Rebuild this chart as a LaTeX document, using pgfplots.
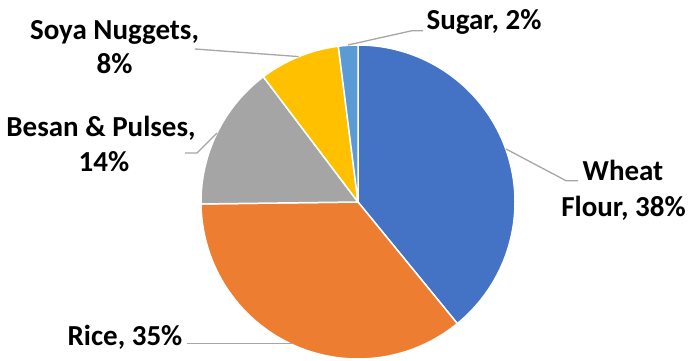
\documentclass[border=0pt]{standalone}
\usepackage{pgfplots}
\pgfplotsset{compat=1.18}
\usepackage{pgfplotstable}
\usepackage{fontspec}
\setmainfont{Carlito}
\definecolor{cWheat}{HTML}{4472C4}
\definecolor{cRice}{HTML}{ED7D31}
\definecolor{cBesan}{HTML}{A5A5A5}
\definecolor{cSoya}{HTML}{FFC000}
\definecolor{cSugar}{HTML}{5B9BD5}
\definecolor{leader}{HTML}{A6A6A6}
\pgfplotstableread{
share
39.1
35.7
14.9
8.3
2.0
}\shares
\def\cx{358}\def\cy{159}\def\pr{157}
\begin{document}%
\begin{tikzpicture}
\pgfplotstablegetelem{0}{share}\of\shares \let\sA\pgfplotsretval
\pgfplotstablegetelem{1}{share}\of\shares \let\sB\pgfplotsretval
\pgfplotstablegetelem{2}{share}\of\shares \let\sC\pgfplotsretval
\pgfplotstablegetelem{3}{share}\of\shares \let\sD\pgfplotsretval
\pgfplotstablegetelem{4}{share}\of\shares \let\sE\pgfplotsretval
\pgfmathsetmacro\aO{90}
\pgfmathsetmacro\aA{\aO-3.6*\sA}
\pgfmathsetmacro\aB{\aA-3.6*\sB}
\pgfmathsetmacro\aC{\aB-3.6*\sC}
\pgfmathsetmacro\aD{\aC-3.6*\sD}
\pgfmathsetmacro\aE{\aD-3.6*\sE}
\begin{axis}[width=693bp,height=361bp,scale only axis,
  xmin=0,xmax=693,ymin=0,ymax=361,hide axis,clip=false]
\addplot[fill=cWheat,draw=white,line width=1.5bp,domain=\aA:\aO,samples=120,variable=\t]
  ({\cx+\pr*cos(\t)},{\cy+\pr*sin(\t)}) -- (axis cs:\cx,\cy) -- cycle;
\addplot[fill=cRice,draw=white,line width=1.5bp,domain=\aB:\aA,samples=120,variable=\t]
  ({\cx+\pr*cos(\t)},{\cy+\pr*sin(\t)}) -- (axis cs:\cx,\cy) -- cycle;
\addplot[fill=cBesan,draw=white,line width=1.5bp,domain=\aC:\aB,samples=60,variable=\t]
  ({\cx+\pr*cos(\t)},{\cy+\pr*sin(\t)}) -- (axis cs:\cx,\cy) -- cycle;
\addplot[fill=cSoya,draw=white,line width=1.5bp,domain=\aD:\aC,samples=40,variable=\t]
  ({\cx+\pr*cos(\t)},{\cy+\pr*sin(\t)}) -- (axis cs:\cx,\cy) -- cycle;
\addplot[fill=cSugar,draw=white,line width=1.5bp,domain=\aE:\aD,samples=15,variable=\t]
  ({\cx+\pr*cos(\t)},{\cy+\pr*sin(\t)}) -- (axis cs:\cx,\cy) -- cycle;
% leader lines
\addplot[leader,line width=1.3bp] coordinates {(506,212) (566,180.3) (578,180.3)};
\addplot[leader,line width=1.3bp] coordinates {(291.6,17.5) (187,17.5)};
\addplot[leader,line width=1.3bp] coordinates {(217,228) (197,208) (185,208)};
\addplot[leader,line width=1.3bp] coordinates {(298.7,304.4) (195,312)};
\addplot[leader,line width=1.3bp] coordinates {(348,316) (412,330.3) (423,330.3)};
% labels
\begin{scope}[every node/.style={anchor=base,inner sep=0pt,font=\fontsize{29bp}{35bp}\selectfont\bfseries}]
\node at (axis cs:623,180.3) {Wheat};
\node at (axis cs:623.5,144) {Flour, 38\%};
\node at (axis cs:125,16) {Rice, 35\%};
\node at (axis cs:101,224.3) {Besan \& Pulses,};
\node at (axis cs:104,189.3) {14\%};
\node at (axis cs:114.5,321.7) {Soya Nuggets,};
\node at (axis cs:114.5,287) {8\%};
\node at (axis cs:484,331) {Sugar, 2\%};
\end{scope}
\end{axis}
\pgfresetboundingbox
\path[use as bounding box] (current axis.south west) rectangle (current axis.north east);
\end{tikzpicture}%
\end{document}
